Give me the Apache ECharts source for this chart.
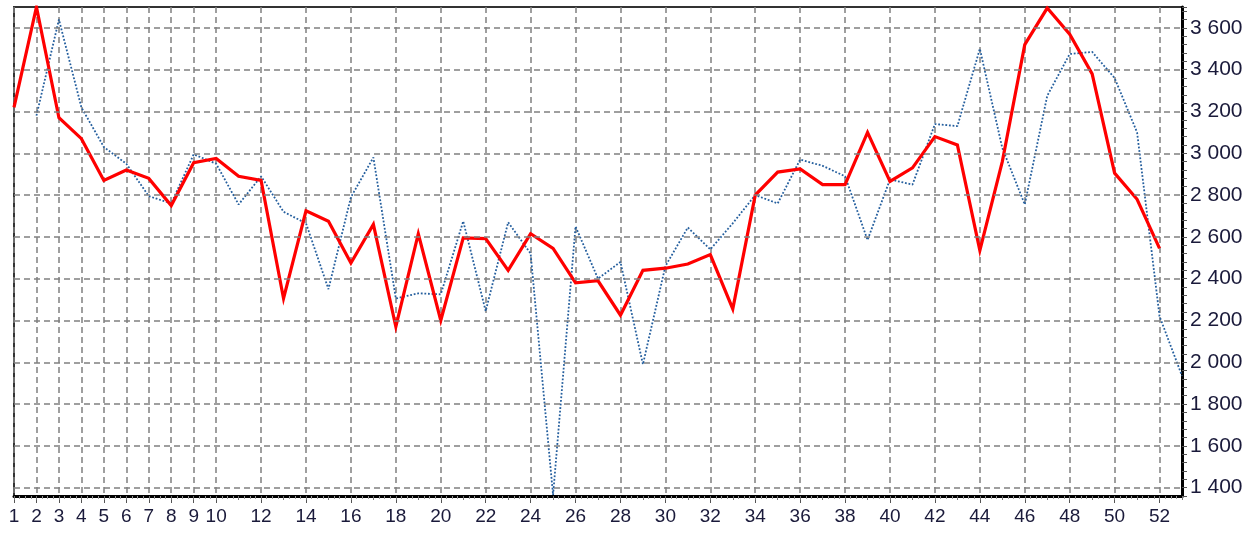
<!DOCTYPE html>
<html>
<head>
<meta charset="utf-8">
<script src="https://cdn.jsdelivr.net/npm/echarts@6/dist/echarts.min.js"></script>
<style>
html,body{margin:0;padding:0;background:#fff;}
#chart{width:1257px;height:538px;}
</style>
</head>
<body>
<div id="chart"></div>
<script>
var categories = ['1','2','3','4','5','6','7','8','9','10','11','12','13','14','15','16','17','18','19','20','21','22','23','24','25','26','27','28','29','30','31','32','33','34','35','36','37','38','39','40','41','42','43','44','45','46','47','48','49','50','51','52','53'];
var redSeries = [3220,3700,3170,3070,2870,2920,2880,2750,2955,2975,2890,2870,2305,2725,2675,2475,2660,2170,2615,2200,2595,2592,2440,2615,2545,2380,2390,2225,2440,2450,2470,2515,2255,2800,2910,2925,2850,2850,3100,2865,2930,3080,3040,2535,2960,3520,3695,3570,3380,2905,2780,2545,null];
var blueSeries = [null,3180,3640,3220,3030,2950,2795,2760,2995,2950,2755,2890,2720,2665,2350,2790,2980,2305,2330,2325,2675,2245,2670,2520,1365,2650,2400,2480,1990,2460,2645,2540,2665,2800,2760,2970,2940,2890,2585,2875,2850,3140,3130,3500,3025,2755,3275,3475,3485,3360,3100,2220,1935];
var yTicks = [1400,1600,1800,2000,2200,2400,2600,2800,3000,3200,3400,3600];
var xLabelShown = ['1','2','3','4','5','6','7','8','9','10','12','14','16','18','20','22','24','26','28','30','32','34','36','38','40','42','44','46','48','50','52'];

function fmt(v){ return String(v).replace(/\B(?=(\d{3})+(?!\d))/g, ' '); }
function shown(i, v){ return xLabelShown.indexOf(String(v)) >= 0; }

var chart = echarts.init(document.getElementById('chart'), null, {renderer:'canvas'});
var gridDash = [6,4];
chart.setOption({
  animation: false,
  backgroundColor: '#ffffff',
  grid: {left: 14, right: 75, top: 7, bottom: 42, show: true, borderColor: '#333', borderWidth: 2, backgroundColor: 'transparent'},
  xAxis: [{
    type: 'category',
    data: categories,
    boundaryGap: false,
    position: 'bottom',
    axisLine: {show: true, lineStyle: {color: '#000', width: 3}},
    axisTick: {show: true, interval: shown, length: 7, lineStyle: {color: '#555', width: 1}},
    axisLabel: {interval: shown, color: '#1a1a3a', fontFamily: 'Liberation Sans Narrow, Liberation Sans, Arial', fontSize: 19, margin: 11},
    splitLine: {show: true, interval: shown, lineStyle: {color: '#808080', width: 1.5, type: gridDash}}
  }, {
    type: 'value',
    min: 1, max: 53, interval: 1,
    position: 'bottom',
    axisLine: {show: false},
    axisLabel: {show: false},
    axisTick: {show: true, length: 4, lineStyle: {color: '#777', width: 1}},
    minorTick: {show: true, splitNumber: 4, length: 3, lineStyle: {color: '#999', width: 1}},
    splitLine: {show: false}
  }],
  yAxis: {
    type: 'value',
    position: 'right',
    min: 1360, max: 3700, interval: 40,
    axisLine: {show: true, lineStyle: {color: '#000', width: 3}},
    axisTick: {show: true, length: 5, lineStyle: {color: '#555', width: 1}},
    axisLabel: {
      color: '#1a1a3a', fontFamily: 'Liberation Sans, Arial', fontSize: 21, margin: 8,
      formatter: function(v){ return (v % 200 === 0) ? fmt(v) : ''; }
    },
    splitLine: {show: false}
  },
  series: [{
    type: 'line',
    data: [],
    z: 1,
    silent: true,
    markLine: {
      silent: true, symbol: 'none', animation: false,
      label: {show: false},
      lineStyle: {color: '#808080', width: 1.5, type: gridDash},
      data: yTicks.map(function(t){ return {yAxis: t}; })
    }
  }, {
    type: 'line',
    data: blueSeries,
    z: 2,
    symbol: 'none',
    connectNulls: false,
    lineStyle: {color: '#255f9e', width: 1.8, type: [1.8, 1.8]}
  }, {
    type: 'line',
    data: redSeries,
    z: 3,
    symbol: 'none',
    lineStyle: {color: '#ff0000', width: 3.2, join: 'miter'}
  }]
});
</script>
</body>
</html>
